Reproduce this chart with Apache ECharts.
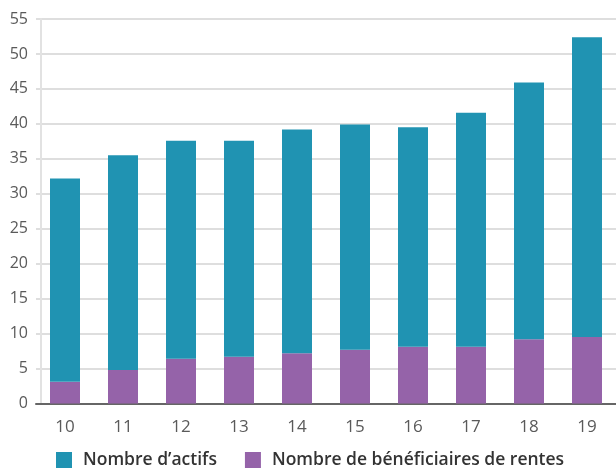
<!DOCTYPE html>
<html lang="fr">
<head>
    <meta charset="UTF-8">
    <title>Actifs et bénéficiaires de rentes</title>
    <script src="https://cdn.jsdelivr.net/npm/echarts@6/dist/echarts.min.js"></script>
    <style>
        html, body { margin: 0; padding: 0; background: #fff; }
        #main { width: 616px; height: 468px; }
    </style>
</head>
<body>
<div id="main"></div>
<script>
    // valeurs
    var annees = ['10', '11', '12', '13', '14', '15', '16', '17', '18', '19'];
    var beneficiaires = [3.1, 4.8, 6.4, 6.7, 7.2, 7.7, 8.1, 8.1, 9.2, 9.5];
    var actifs = [29.1, 30.7, 31.2, 30.9, 32.0, 32.2, 31.4, 33.5, 36.7, 42.9];

    var myChart = echarts.init(document.getElementById('main'));

    var option = {
        animation: false,
        textStyle: { fontFamily: '"Open Sans", sans-serif' },
        grid: { left: 36, right: 0, top: 19, bottom: 64.5 },
        legend: {
            top: 446,
            left: 51,
            itemWidth: 16,
            itemHeight: 16,
            itemGap: 28,
            icon: 'rect',
            textStyle: { fontSize: 17.5, fontWeight: 600, color: '#333', padding: [0, 0, 0, 6] },
            data: ['Nombre d’actifs', 'Nombre de bénéficiaires de rentes']
        },
        xAxis: {
            type: 'category',
            data: annees,
            axisLine: { lineStyle: { color: '#666', width: 2 } },
            axisTick: { show: false },
            axisLabel: { fontSize: 17, color: '#5a5a5a', margin: 15 }
        },
        yAxis: {
            type: 'value',
            min: 0,
            max: 55,
            interval: 5,
            offset: -5,
            axisLine: { show: true, lineStyle: { color: '#e2e2e2', width: 2 } },
            axisTick: { show: false },
            axisLabel: { fontSize: 16, color: '#5a5a5a', margin: 13 },
            splitLine: { lineStyle: { color: '#dedede', width: 2 } }
        },
        series: [
            {
                name: 'Nombre de bénéficiaires de rentes',
                type: 'bar',
                stack: 'total',
                data: beneficiaires,
                barWidth: 30,
                itemStyle: { color: '#9563a9' }
            },
            {
                name: 'Nombre d’actifs',
                type: 'bar',
                stack: 'total',
                data: actifs,
                barWidth: 30,
                itemStyle: { color: '#2093b2' }
            }
        ]
    };

    myChart.setOption(option);
</script>
</body>
</html>
